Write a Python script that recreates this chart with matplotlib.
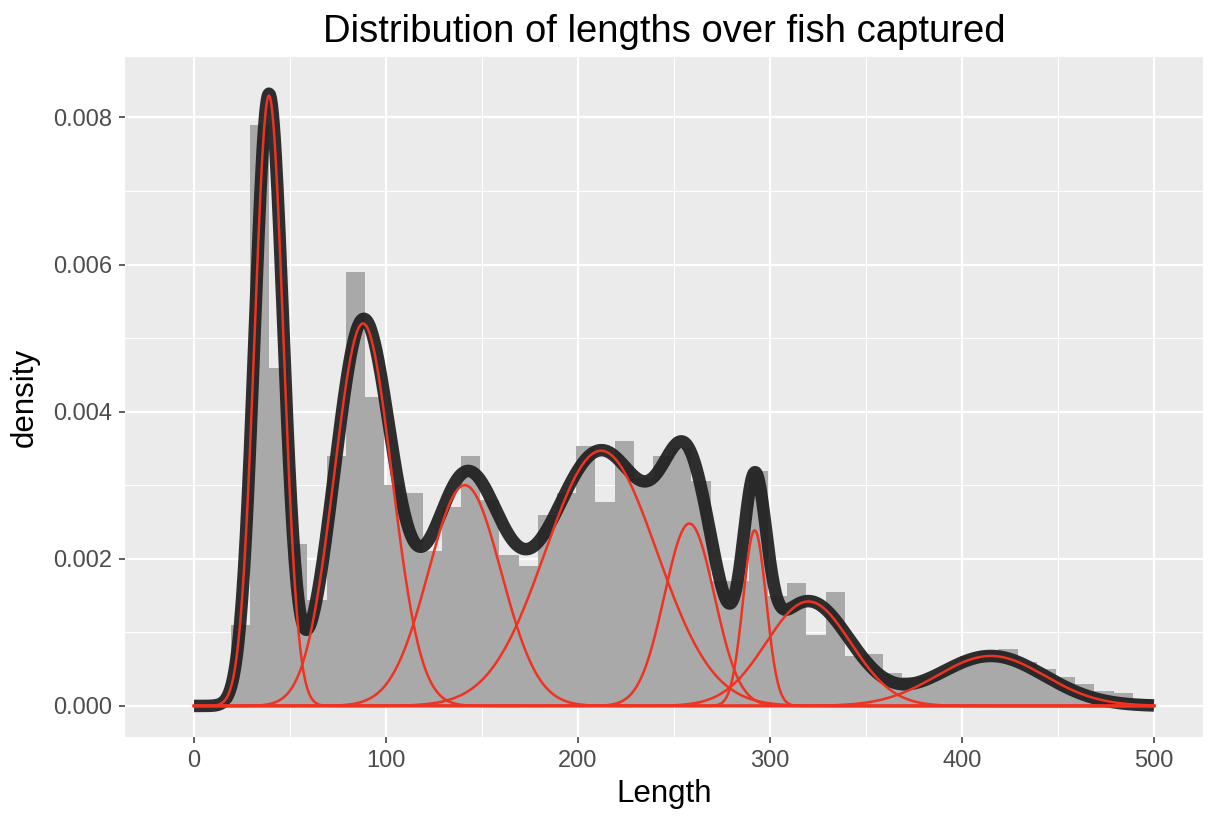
import matplotlib.pyplot as plt
import numpy as np

plt.rcParams['font.family'] = ['Liberation Sans', 'DejaVu Sans']

# Histogram of fish lengths: density for each bin of width 10
bin_left = np.arange(19, 499, 10)
bar_density = [0.0011, 0.0079, 0.0046, 0.0022, 0.00144, 0.0034, 0.0059, 0.0042,
               0.0030, 0.0029, 0.0021, 0.0027, 0.0034, 0.0028, 0.00205, 0.0019,
               0.0026, 0.0029, 0.00354, 0.00277, 0.0036, 0.0031, 0.0034, 0.0035,
               0.00306, 0.0017, 0.0017, 0.0032, 0.0015, 0.00167, 0.00096, 0.00155,
               0.00068, 0.0007, 0.00045, 0.0004, 0.0004, 0.00049, 0.00068, 0.00075,
               0.00077, 0.0006, 0.0005, 0.0004, 0.0003, 0.0002, 0.00018, 0.0001]

# Fitted normal mixture components (mean, sd, weight)
comp_mean = [39, 88, 141, 212, 258, 292, 320, 415]
comp_sd = [7.5, 15, 19, 29, 13, 6, 22, 28]
comp_weight = [0.156, 0.1955, 0.1429, 0.2522, 0.0808, 0.0359, 0.0783, 0.0477]

xticks = [0, 100, 200, 300, 400, 500]
yticks = [0, 0.002, 0.004, 0.006, 0.008]
ytick_labels = ["0.000", "0.002", "0.004", "0.006", "0.008"]

def normal_pdf(x, m, s):
    return np.exp(-0.5 * ((x - m) / s) ** 2) / (s * np.sqrt(2 * np.pi))

fig = plt.figure(figsize=(12.25, 8.16), dpi=100)
ax = fig.add_axes([0.102, 0.097, 0.880, 0.833])
ax.set_facecolor('#EBEBEB')

ax.bar(bin_left, bar_density, width=10, align='edge', color='#a9a9a9', zorder=2)

x = np.linspace(0, 500, 1001)
comps = [w * normal_pdf(x, m, s) for m, s, w in zip(comp_mean, comp_sd, comp_weight)]
ax.plot(x, np.sum(comps, axis=0), color='#1e1e1e', lw=9, alpha=0.92,
        solid_capstyle='butt', zorder=3)
for c in comps:
    ax.plot(x, c, color='#ee3322', lw=1.8, zorder=4)

ax.set_xlim(-36, 525.5)
ax.set_ylim(-0.00042, 0.00882)
ax.set_xticks(xticks)
ax.set_xticks([50, 150, 250, 350, 450], minor=True)
ax.set_yticks(yticks)
ax.set_yticklabels(ytick_labels)
ax.set_yticks([0.001, 0.003, 0.005, 0.007], minor=True)
ax.grid(which='major', color='white', lw=1.6, zorder=0)
ax.grid(which='minor', color='white', lw=0.8, zorder=0)
ax.set_axisbelow(True)
for sp in ax.spines.values():
    sp.set_visible(False)
ax.tick_params(which='major', length=4.5, width=1.1, color='#333333',
               labelsize=17, labelcolor='#4D4D4D', pad=5)
ax.tick_params(which='minor', length=0)

ax.set_xlabel("Length", fontsize=22.5, labelpad=5)
ax.set_ylabel("density", fontsize=22.5, labelpad=9)
ax.set_title("Distribution of lengths over fish captured", fontsize=27.5, pad=11)

fig.savefig("out.png", dpi=100)
